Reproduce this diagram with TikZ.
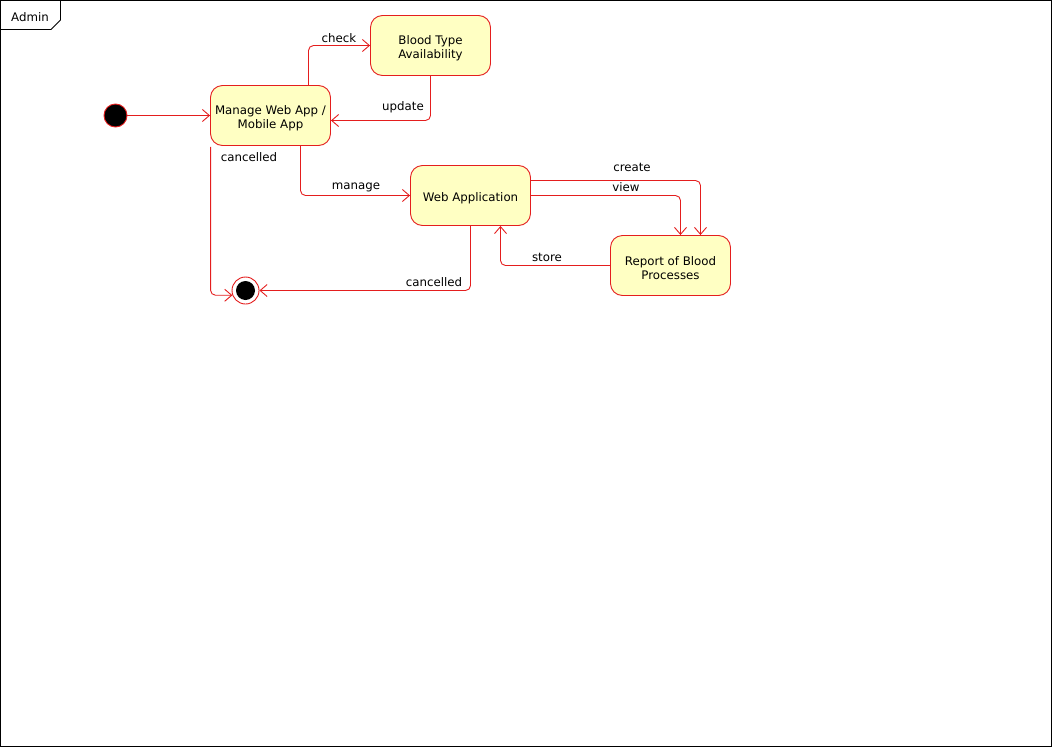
\documentclass[tikz,border=0pt]{standalone}
\usepackage{fontspec}
\setmainfont{DejaVu Sans}
\usetikzlibrary{arrows.meta}
\definecolor{edgered}{RGB}{228,30,30}
\definecolor{statefill}{RGB}{255,255,195}
% invisible strut that lowers the first line of a state label a little
\newcommand{\lowerfirst}{\rule{0pt}{14pt}}
\begin{document}
\begin{tikzpicture}[x=1pt,y=-1pt,
  state/.style={draw=edgered, fill=statefill, rounded corners=12pt,
    minimum width=120pt, minimum height=60pt, align=center,
    font=\fontsize{11.8}{14}\selectfont, inner sep=0pt, line width=0.9pt},
  trans/.style={draw=edgered, line width=0.9pt, rounded corners=5pt,
    -{Straight Barb[length=7pt,width=12pt,line width=0.9pt]}},
  lbl/.style={font=\fontsize{11.8}{13}\selectfont, inner sep=0pt, text=black}]
\useasboundingbox (0,0) rectangle (1052,747);
% frame with name tab
\draw[black, line width=0.9pt] (0.5,0.5) rectangle (1051.5,746.5);
\draw[black, line width=0.9pt] (0.5,29.5) -- (51,29.5) -- (60.5,20) -- (60.5,0.5);
\node[lbl] (frametitle) at (30,17) {Admin};

% states
\node[state] (manage) at (270.5,115.5) {\lowerfirst Manage Web App /\\Mobile App};
\node[state] (blood)  at (430.5,45.5) {\lowerfirst Blood Type\\Availability};
\node[state] (web)    at (470.5,195.5) {\lowerfirst Web Application};
\node[state] (report) at (670.5,265.5) {\lowerfirst Report of Blood\\Processes};

% pseudo states
\node[circle, fill=black, draw=edgered, line width=0.9pt, minimum size=23pt, inner sep=0pt] (init) at (115.5,115.5) {};
\node[circle, fill=white, draw=edgered, line width=0.9pt, minimum size=27pt, inner sep=0pt] (final) at (245.5,290.5) {};
\node[circle, fill=black, minimum size=19pt, inner sep=0pt] (finaldot) at (final) {};

% transitions
\draw[trans] (init) -- (manage);
\draw[trans] ([xshift=38pt]manage.north) |- (blood.west)
  node[lbl] at (339,38.5) {check};
\draw[trans] (blood.south) |- ([yshift=-5pt]manage.east)
  node[lbl] at (403,107) {update};
\draw[trans] ([xshift=0.5pt,yshift=-1pt]manage.south west) |- (final.200)
  node[lbl] at (249,157) {cancelled};
\draw[trans] ([xshift=30pt]manage.south) |- (web.west)
  node[lbl] at (356,187) {manage};
\draw[trans] (web.south) |- (final.east)
  node[lbl] at (434,282) {cancelled};
\draw[trans] ([yshift=15pt]web.east) -| ([xshift=30pt]report.north)
  node[lbl] at (632,167) {create};
\draw[trans] (web.east) -| ([xshift=10pt]report.north)
  node[lbl] at (626,187) {view};
\draw[trans] (report.west) -| ([xshift=30pt]web.south)
  node[lbl] at (547,257) {store};
\end{tikzpicture}
\end{document}
